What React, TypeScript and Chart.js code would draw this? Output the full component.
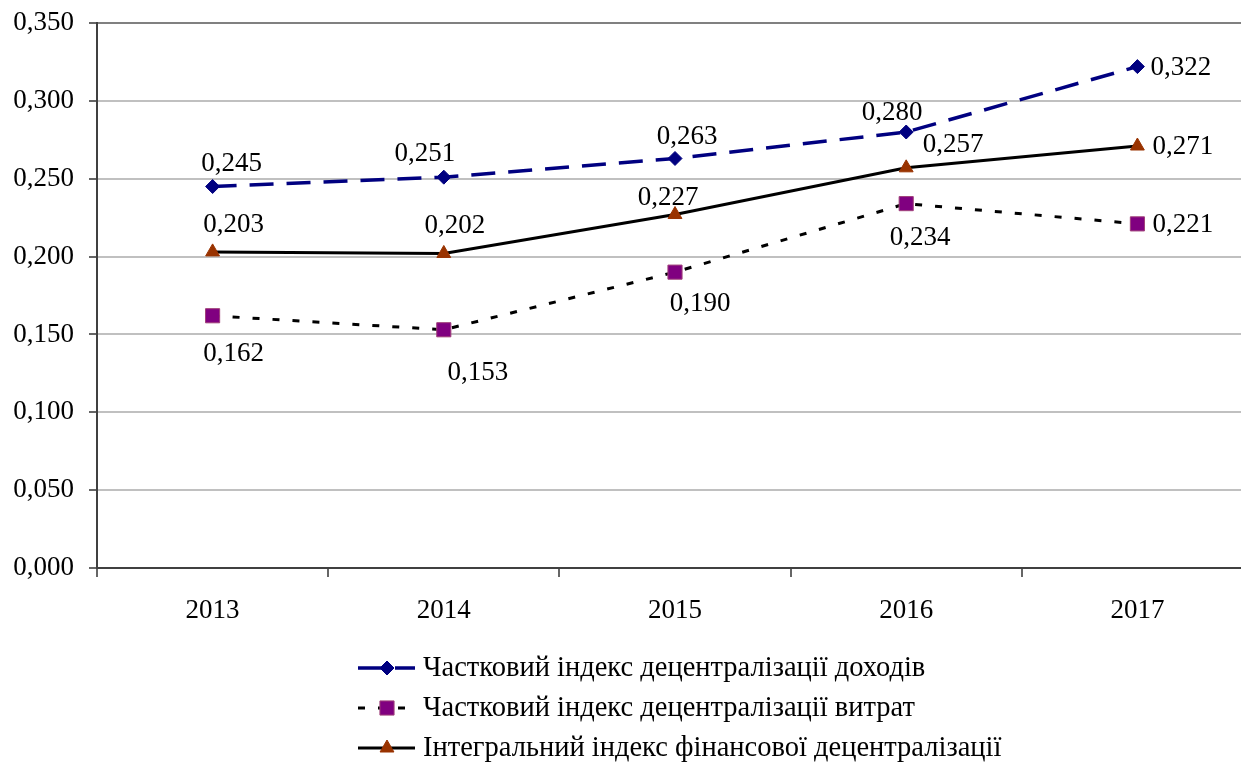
import React, { useEffect, useRef } from "react";
import { Chart, registerables } from "chart.js";

Chart.register(...registerables);

const years = ["2013", "2014", "2015", "2016", "2017"];
const revenueIndex = [0.245, 0.251, 0.263, 0.28, 0.322];
const expenditureIndex = [0.162, 0.153, 0.19, 0.234, 0.221];
const integralIndex = [0.203, 0.202, 0.227, 0.257, 0.271];
const seriesNames = [
  "Частковий індекс децентралізації доходів",
  "Частковий індекс децентралізації витрат",
  "Інтегральний індекс фінансової децентралізації",
];
const yMin = 0;
const yMax = 0.35;
const yStep = 0.05;

// label placement (styling, not data)
const revenueLabelPos = [
  { dx: 19, dy: -24, align: "center" },
  { dx: -19, dy: -24, align: "center" },
  { dx: 12, dy: -23, align: "center" },
  { dx: -14, dy: -20, align: "center" },
  { dx: 13, dy: 0, align: "left" },
];
const expenditureLabelPos = [
  { dx: 21, dy: 37, align: "center" },
  { dx: 34, dy: 42, align: "center" },
  { dx: 25, dy: 31, align: "center" },
  { dx: 14, dy: 33, align: "center" },
  { dx: 15, dy: 0, align: "left" },
];
const integralLabelPos = [
  { dx: 21, dy: -28, align: "center" },
  { dx: 11, dy: -29, align: "center" },
  { dx: -7, dy: -18, align: "center" },
  { dx: 47, dy: -24, align: "center" },
  { dx: 15, dy: 0, align: "left" },
];

const FONT = "'Liberation Serif', 'Times New Roman', serif";
const fmt = (v: number) => v.toFixed(3).replace(".", ",");

const CANVAS_W = 1264;

const labelPlugin = {
  id: "valueLabels",
  afterDatasetsDraw(chart: any) {
    const ctx = chart.ctx;
    const positions = [revenueLabelPos, expenditureLabelPos, integralLabelPos];
    ctx.save();
    ctx.font = `27px ${FONT}`;
    ctx.fillStyle = "#000";
    ctx.textBaseline = "middle";
    chart.data.datasets.forEach((ds: any, di: number) => {
      const meta = chart.getDatasetMeta(di);
      meta.data.forEach((pt: any, i: number) => {
        const p = positions[di][i];
        ctx.textAlign = p.align;
        ctx.fillText(fmt(ds.data[i]), pt.x + p.dx, pt.y + p.dy + 1);
      });
    });
    ctx.restore();
  },
};

const legendPlugin = {
  id: "customLegend",
  afterDraw(chart: any) {
    const ctx = chart.ctx;
    const area = chart.chartArea;
    ctx.save();
    ctx.font = `28.5px ${FONT}`;
    const sampleW = 57;
    const gap = 8;
    const left = area.left + 261;
    const rowYs = [area.bottom + 100, area.bottom + 140, area.bottom + 180];
    chart.data.datasets.forEach((ds: any, di: number) => {
      const y = rowYs[di];
      ctx.save();
      ctx.strokeStyle = ds.borderColor;
      ctx.lineWidth = ds.borderWidth;
      ctx.setLineDash(ds.borderDash || []);
      ctx.beginPath();
      ctx.moveTo(left, y);
      ctx.lineTo(left + sampleW, y);
      ctx.stroke();
      ctx.restore();
      ctx.save();
      ctx.fillStyle = ds.pointBackgroundColor;
      ctx.strokeStyle = ds.pointBorderColor;
      ctx.lineWidth = ds.pointBorderWidth;
      const cx = left + 29;
      const r = ds.pointRadius;
      ctx.beginPath();
      if (ds.pointStyle === "rectRot") {
        ctx.moveTo(cx, y - r);
        ctx.lineTo(cx + r, y);
        ctx.lineTo(cx, y + r);
        ctx.lineTo(cx - r, y);
        ctx.closePath();
      } else if (ds.pointStyle === "rect") {
        const s = Math.SQRT1_2 * r;
        ctx.rect(cx - s, y - s, 2 * s, 2 * s);
      } else {
        ctx.moveTo(cx, y - r);
        ctx.lineTo(cx + Math.sin((2 * Math.PI) / 3) * r, y - Math.cos((2 * Math.PI) / 3) * r);
        ctx.lineTo(cx + Math.sin((4 * Math.PI) / 3) * r, y - Math.cos((4 * Math.PI) / 3) * r);
        ctx.closePath();
      }
      ctx.fill();
      ctx.stroke();
      ctx.restore();
      ctx.fillStyle = "#000";
      ctx.textAlign = "left";
      ctx.textBaseline = "middle";
      ctx.fillText(seriesNames[di], left + sampleW + gap, y + 1);
    });
    ctx.restore();
  },
};

export default function App() {
  const ref = useRef<HTMLCanvasElement>(null);
  useEffect(() => {
    if (!ref.current) return;
    const chart = new Chart(ref.current, {
      type: "line",
      data: {
        labels: years,
        datasets: [
          {
            label: seriesNames[0],
            data: revenueIndex,
            borderColor: "#000080",
            borderWidth: 3.5,
            borderDash: [24, 13],
            pointStyle: "rectRot",
            pointRadius: 7,
            pointBackgroundColor: "#000080",
            pointBorderColor: "#000080",
            pointBorderWidth: 1,
            tension: 0,
          },
          {
            label: seriesNames[1],
            data: expenditureIndex,
            borderColor: "#000000",
            borderWidth: 3,
            borderDash: [7, 13],
            pointStyle: "rect",
            pointRadius: 10,
            pointBackgroundColor: "#800080",
            pointBorderColor: "#a0407a",
            pointBorderWidth: 1,
            tension: 0,
          },
          {
            label: seriesNames[2],
            data: integralIndex,
            borderColor: "#000000",
            borderWidth: 3,
            pointStyle: "triangle",
            pointRadius: 8,
            pointBackgroundColor: "#993300",
            pointBorderColor: "#993300",
            pointBorderWidth: 1,
            tension: 0,
          },
        ],
      },
      options: {
        responsive: false,
        animation: false,
        devicePixelRatio: 1,
        layout: { padding: { top: 23, right: 0, left: 0, bottom: 134 } },
        plugins: { legend: { display: false }, tooltip: { enabled: false } },
        scales: {
          x: {
            offset: true,
            afterFit: (s: any) => {
              s.height = 60;
              s.paddingLeft = 0;
              s.paddingRight = 0;
            },
            grid: {
              offset: true,
              drawOnChartArea: false,
              drawTicks: true,
              tickLength: 9,
              color: "#666666",
              lineWidth: 2,
            },
            border: { color: "#404040", width: 2 },
            ticks: {
              color: "#000",
              padding: 18,
              font: { family: FONT, size: 27 },
            },
          },
          y: {
            min: yMin,
            max: yMax,
            afterFit: (s: any) => {
              s.width = 97;
              s.paddingTop = 0;
              s.paddingBottom = 0;
            },
            ticks: {
              stepSize: yStep,
              color: "#000",
              padding: 15,
              font: { family: FONT, size: 27 },
              callback: (v: any) => fmt(Number(v)),
            },
            grid: {
              color: (c: any) =>
                c.tick && Math.abs(c.tick.value - yMax) < 1e-9 ? "#808080" : "#c0c0c0",
              lineWidth: 2,
              tickLength: 8,
              tickColor: "#666666",
            },
            border: { color: "#404040", width: 2 },
          },
        },
      },
      plugins: [labelPlugin, legendPlugin],
    });
    return () => chart.destroy();
  }, []);
  return (
    <div
      style={{
        position: "fixed",
        left: 0,
        top: 0,
        width: 1241,
        height: 762,
        overflow: "hidden",
        background: "#fff",
      }}
    >
      <div style={{ width: CANVAS_W, height: 762 }}>
        <canvas ref={ref} width={CANVAS_W} height={762} style={{ display: "block" }} />
      </div>
    </div>
  );
}
